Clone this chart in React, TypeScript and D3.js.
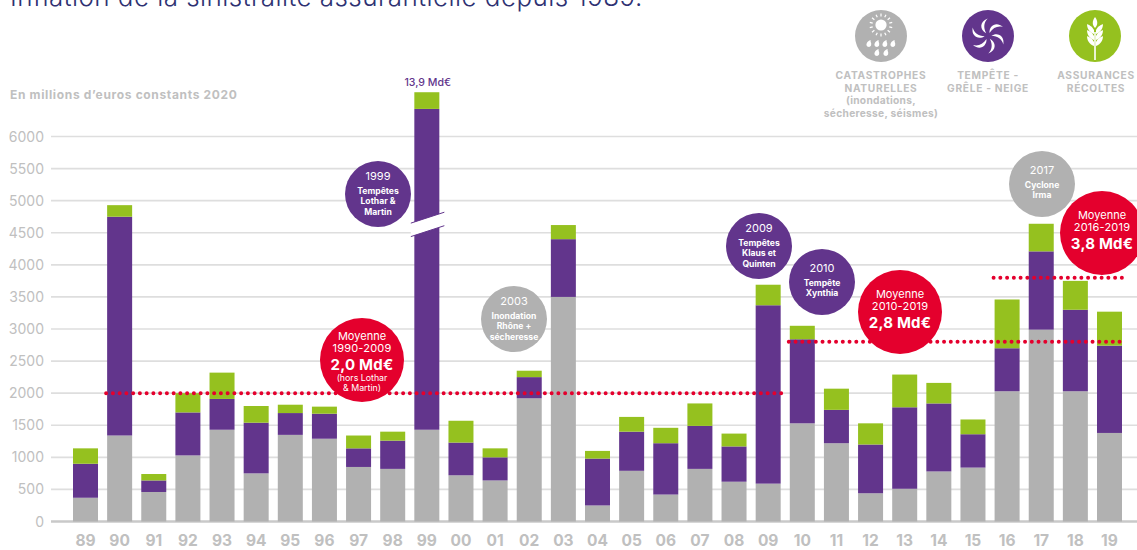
import React from 'react';
import * as d3 from 'd3';

const years = ['89','90','91','92','93','94','95','96','97','98','99','00','01','02','03','04','05','06','07','08','09','10','11','12','13','14','15','16','17','18','19'];

// millions d'euros
const catnat = [370,1340,460,1030,1430,750,1350,1290,850,820,1430,720,640,1920,3500,250,790,420,820,620,590,1530,1220,440,510,780,840,2030,2990,2030,1380];
// 1999 is the drawn (broken) height, the real total is the 13,9 Md€ label
const tempete = [530,3410,180,670,480,790,340,390,290,440,5000,510,360,330,900,730,610,800,670,550,2780,1310,520,760,1270,1060,520,670,1220,1270,1360];
const recoltes = [240,180,100,300,410,260,130,110,200,140,260,340,140,100,220,120,230,240,350,200,320,210,330,330,510,320,230,760,430,450,530];

const yTicks = [0,500,1000,1500,2000,2500,3000,3500,4000,4500,5000,5500,6000];

const averages = [
  { value: 2000, from: '90', to: '09' },
  { value: 2800, from: '10', to: '19' },
  { value: 3800, from: '16', to: '19' },
];

const FONT = 'Inter, "Open Sans", sans-serif';
const GREY = '#b1b1b1';
const PURPLE = '#62358c';
const GREEN = '#95c11f';
const RED = '#e4002d';
const LABEL = '#c0c0c0';

const rows = years.map((y, i) => ({ year: y, catnat: catnat[i], tempete: tempete[i], recoltes: recoltes[i] }));
const stacked = d3.stack<any>().keys(['catnat', 'tempete', 'recoltes'])(rows);
const colors = [GREY, PURPLE, GREEN];

const x = d3.scaleBand().domain(years).range([73, 1122]).paddingInner(0.2675).paddingOuter(0);
const y = d3.scaleLinear().domain([0, 6000]).range([521.5, 136.5]);

const Bubble = ({ cx, cy, fill, year, lines }: { cx: number; cy: number; fill: string; year: string; lines: string[] }) => {
  // two-line bubbles sit a little lower than three-line ones
  const shift = lines.length === 2 ? 4 : 0;
  return (
    <g fontFamily={FONT} fill="#fff" textAnchor="middle">
      <circle cx={cx} cy={cy} r={33} fill={fill} />
      <text x={cx} y={cy - 14 + shift} fontSize={11}>{year}</text>
      {lines.map((l, i) => (
        <text key={l} x={cx} y={cy + shift + i * 10.4} fontSize={8.6} fontWeight={700}>{l}</text>
      ))}
    </g>
  );
};

const AvgBubble = ({ cx, cy, lines, value, note }: { cx: number; cy: number; lines: string[]; value: string; note?: string[] }) => {
  const shift = note ? 0 : 6;
  return (
    <g fontFamily={FONT} fill="#fff" textAnchor="middle">
      <circle cx={cx} cy={cy} r={42} fill={RED} />
      <text x={cx} y={cy - 20 + shift} fontSize={11}>{lines[0]}</text>
      <text x={cx} y={cy - 8 + shift} fontSize={11} letterSpacing={0.2}>{lines[1]}</text>
      <text x={cx} y={cy + 10 + shift} fontSize={15} fontWeight={700} letterSpacing={0.2}>{value}</text>
      {(note || []).map((n, i) => (
        <text key={n} x={cx} y={cy + 21 + i * 9.5} fontSize={8.8}>{n}</text>
      ))}
    </g>
  );
};

const SunIcon = ({ cx, cy }: { cx: number; cy: number }) => (
  <g transform={`translate(${cx},${cy})`} fill="#fff" stroke="none">
    <circle cy={-11} r={5.6} />
    {d3.range(14).map(i => (
      <rect key={i} x={-0.6} y={-11.5} width={1.2} height={3} transform={`translate(0,-11) rotate(${i * 360 / 14})`} />
    ))}
    {[[-12, 7], [-4, 7], [4, 7], [12, 7], [-4, 16], [5, 16]].map(([dx, dy], i) => (
      <path key={i} d="M1.6,-3 C1.2,-1 2.6,0 2.2,1.2 A2.4,2.4 0 1 1 -2.2,0.2 C-1.6,-1.4 0,-2.4 1.6,-3Z" transform={`translate(${dx},${dy})`} />
    ))}
  </g>
);

const SwirlIcon = ({ cx, cy }: { cx: number; cy: number }) => (
  <g transform={`translate(${cx},${cy})`} fill="#fff">
    {d3.range(6).map(i => (
      <path key={i} d="M1.5,-3 C1,-10 8,-15 15,-9 C10,-10.5 5,-8.5 1.5,-3Z" transform={`rotate(${i * 60})`} />
    ))}
  </g>
);

const WheatIcon = ({ cx, cy }: { cx: number; cy: number }) => (
  <g transform={`translate(${cx},${cy})`} fill="#fff">
    <rect x={-0.8} y={-4} width={1.6} height={28} />
    <path d="M0,-19 C3,-15 3,-11 0,-8 C-3,-11 -3,-15 0,-19Z" />
    {[-6, 0, 6].map(dy => (
      <g key={dy}>
        <path d="M-1,0 C-3,-4 -6,-5 -8,-6 C-8,-2 -6,2 -1,4Z" transform={`translate(0,${dy})`} />
        <path d="M1,0 C3,-4 6,-5 8,-6 C8,-2 6,2 1,4Z" transform={`translate(0,${dy})`} />
      </g>
    ))}
  </g>
);

const LegendText = ({ cx, lines }: { cx: number; lines: string[] }) => (
  <text fontFamily={FONT} fontSize={10.2} fontWeight={700} fill={LABEL} textAnchor="middle">
    {lines.map((l, i) => (
      <tspan key={l} x={cx} y={79 + i * 12.6} letterSpacing={l === l.toUpperCase() ? 0.7 : 0.3}>{l}</tspan>
    ))}
  </text>
);

export default function App() {
  const breakX0 = x('99')! - 3.5;
  const breakX1 = x('99')! + x.bandwidth() + 5;

  return (
    <svg width={1137} height={550} style={{ position: 'absolute', left: 0, top: 0, background: '#fff' }}>
      <text x={10} y={6} fontFamily={FONT} fontSize={26} fontWeight={300} letterSpacing={0.45} fill="#2e3172">
        Inflation de la sinistralité assurantielle depuis 1989.
      </text>

      <text x={10} y={99} fontFamily={FONT} fontSize={12} fontWeight={700} letterSpacing={0.65} fill={LABEL}>
        En millions d’euros constants 2020
      </text>

      {yTicks.map(t => (
        <g key={t}>
          <line x1={51} x2={1137} y1={y(t)} y2={y(t)} stroke={t === 0 ? '#c9c9c9' : '#dedede'} strokeWidth={t === 0 ? 2.4 : 1.6} />
          <text x={44} y={y(t) + 5} textAnchor="end" fontFamily={FONT} fontSize={14} fill={LABEL}>{t}</text>
        </g>
      ))}

      {stacked.map((layer, i) => (
        <g key={layer.key} fill={colors[i]}>
          {layer.map(d => (
            <rect
              key={d.data.year}
              x={x(d.data.year)}
              width={x.bandwidth()}
              y={y(d[1])}
              height={y(d[0]) - y(d[1])}
            />
          ))}
        </g>
      ))}

      {/* axis break on 1999 */}
      <path
        d={`M${breakX0},${y(4650)} L${breakX1},${y(4820)} L${breakX1},${y(4610)} L${breakX0},${y(4440)}Z`}
        fill="#fff"
      />
      <path
        d={`M${breakX0},${y(4650)} L${breakX1},${y(4820)} M${breakX1},${y(4610)} L${breakX0},${y(4440)}`}
        stroke={PURPLE}
        strokeWidth={1}
        fill="none"
      />

      <text x={x('99')! + x.bandwidth() / 2 + 1} y={86} textAnchor="middle" fontFamily={FONT} fontSize={10.6} fontWeight={500} fill={PURPLE}>
        13,9 Md€
      </text>

      {years.map(yr => (
        <text key={yr} x={x(yr)! + x.bandwidth() / 2} y={546} textAnchor="middle" fontFamily={FONT} fontSize={15.5} fontWeight={700} fill={LABEL}>
          {yr}
        </text>
      ))}

      {averages.map(a => (
        <line
          key={a.value}
          x1={x(a.from)! - 1}
          x2={x(a.to)! + x.bandwidth() + 4}
          y1={y(a.value)}
          y2={y(a.value)}
          stroke={RED}
          strokeWidth={4}
          strokeLinecap="round"
          strokeDasharray="0 6.75"
        />
      ))}

      <Bubble cx={378} cy={194} fill={PURPLE} year="1999" lines={['Tempêtes', 'Lothar &', 'Martin']} />
      <Bubble cx={514} cy={319} fill={GREY} year="2003" lines={['Inondation', 'Rhône +', 'sécheresse']} />
      <Bubble cx={759} cy={246} fill={PURPLE} year="2009" lines={['Tempêtes', 'Klaus et', 'Quinten']} />
      <Bubble cx={822} cy={282} fill={PURPLE} year="2010" lines={['Tempête', 'Xynthia']} />
      <Bubble cx={1042} cy={184} fill={GREY} year="2017" lines={['Cyclone', 'Irma']} />

      <AvgBubble cx={362} cy={360} lines={['Moyenne', '1990-2009']} value="2,0 Md€" note={['(hors Lothar', '& Martin)']} />
      <AvgBubble cx={900} cy={312} lines={['Moyenne', '2010-2019']} value="2,8 Md€" />
      <AvgBubble cx={1102} cy={233} lines={['Moyenne', '2016-2019']} value="3,8 Md€" />

      <circle cx={881} cy={36} r={26} fill={GREY} />
      <SunIcon cx={881} cy={36} />
      <circle cx={988} cy={36} r={26} fill={PURPLE} />
      <SwirlIcon cx={988} cy={36} />
      <circle cx={1095} cy={36} r={26} fill={GREEN} />
      <WheatIcon cx={1095} cy={36} />

      <LegendText cx={881} lines={['CATASTROPHES', 'NATURELLES', '(inondations,', 'sécheresse, séismes)']} />
      <LegendText cx={988} lines={['TEMPÊTE -', 'GRÊLE - NEIGE']} />
      <LegendText cx={1096} lines={['ASSURANCES', 'RÉCOLTES']} />
    </svg>
  );
}
